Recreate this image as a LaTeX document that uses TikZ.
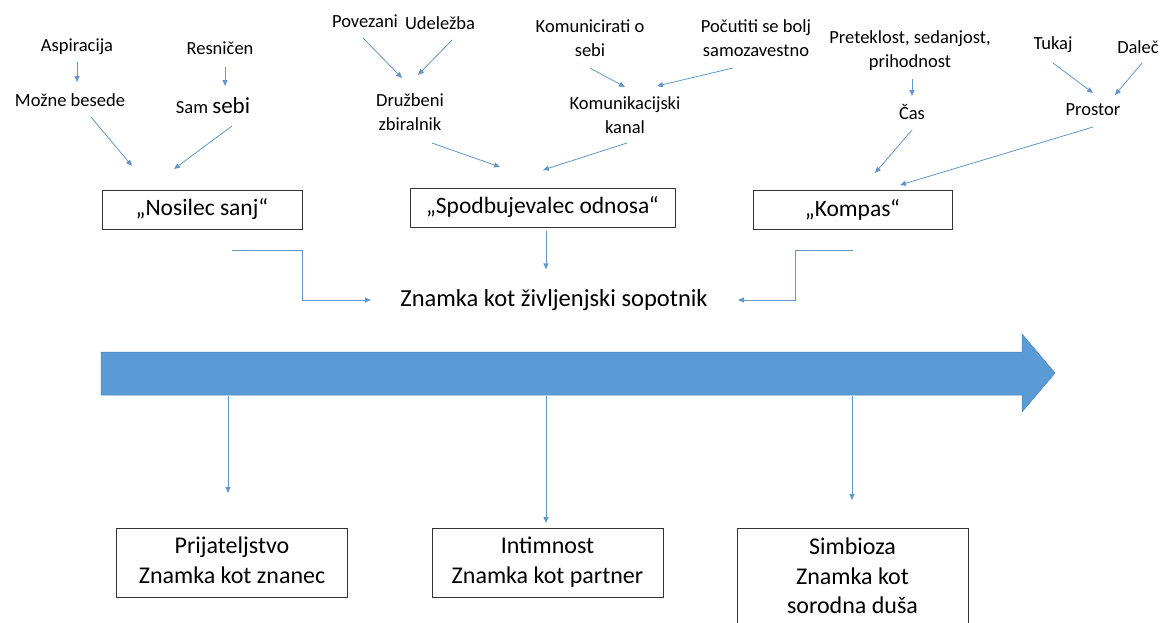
\documentclass[tikz,border=0pt]{standalone}
\usepackage{fontspec}
\setmainfont{Carlito}
\usetikzlibrary{arrows.meta}
\definecolor{ablue}{HTML}{5B9BD5}
\definecolor{lblue}{HTML}{6396C8}
\definecolor{bblue}{HTML}{4A85BD}
\tikzset{
  lbl/.style={font=\fontsize{18.5}{24}\selectfont, align=center, inner sep=0pt},
  boxtop/.style={draw=black!80, line width=0.8pt, minimum height=39pt, inner sep=0pt, font=\fontsize{23.5}{26}\selectfont},
  boxbot/.style={draw=black!80, line width=0.8pt, inner sep=0pt, minimum width=231pt, font=\fontsize{24}{29.5}\selectfont, align=center},
  conn/.style={draw=lblue, line width=0.8pt, -{Triangle[length=6pt,width=5pt]}},
}
\begin{document}
\begin{tikzpicture}[x=1pt,y=-1pt]
\useasboundingbox (0,0) rectangle (1168,622);
% labels
\node[lbl] (asp) at (77,47) {Aspiracija};
\node[lbl] (moz) at (70,100) {Možne besede};
\node[lbl] (res) at (220,48) {Resničen};
\node[lbl] (sam) at (213,106) {Sam {\fontsize{23}{24}\selectfont sebi}};
\node[lbl] (pov) at (365,21) {Povezani};
\node[lbl] (ude) at (440,23) {Udeležba};
\node[lbl] (dru) at (410,112) {Družbeni\\zbiralnik};
\node[lbl] (kom) at (590,38) {Komunicirati o\\sebi};
\node[lbl] (poc) at (756,38) {Počutiti se bolj\\samozavestno};
\node[lbl] (kk) at (625,115) {Komunikacijski\\kanal};
\node[lbl] (pre) at (910,51) {Preteklost, sedanjost,\\prihodnost};
\node[lbl] (cas) at (912,112) {Čas};
\node[lbl] (tuk) at (1053,45) {Tukaj};
\node[lbl] (dal) at (1138,47) {Daleč};
\node[lbl] (pro) at (1093,110) {Prostor};
% top boxes
\node[boxtop, minimum width=200pt] (nos) at (202,209.5) {„Nosilec sanj“};
\node[boxtop, minimum width=265pt] (spo) at (542.5,207.5) {„Spodbujevalec odnosa“};
\node[boxtop, minimum width=199pt] (kmp) at (852.5,209.5) {„Kompas“};
% central
\node[font=\fontsize{24.5}{26}\selectfont, inner sep=0pt] (cen) at (554,300) {Znamka kot življenjski sopotnik};
% big arrow
\fill[ablue, draw=bblue, line width=0.5pt] (101,352) -- (1022,352) -- (1022,334) -- (1055,373) -- (1022,412) -- (1022,395) -- (101,395) -- cycle;
\coordinate (arrL) at (228,396);
\coordinate (arrM) at (546,396);
\coordinate (arrR) at (852,396);
% bottom boxes
\node[boxbot, minimum height=69pt] (b1) at (232,562.5) {Prijateljstvo\strut\\Znamka kot znanec\strut};
\node[boxbot, minimum height=69pt] (b2) at (547.5,562.5) {Intimnost\strut\\Znamka kot partner\strut};
\node[boxbot, minimum height=100pt, anchor=north] (b3) at (852.5,528) {Simbioza\strut\\Znamka kot\strut\\sorodna duša\strut};
% arrow end coordinates
\coordinate (e1) at (77,62); \coordinate (f1) at (77,82);
\coordinate (e2) at (225,67); \coordinate (f2) at (225,86);
\coordinate (e3) at (91,117); \coordinate (f3) at (132,166);
\coordinate (e4) at (232,126); \coordinate (f4) at (174,169);
\coordinate (e5) at (363,38); \coordinate (f5) at (402,78);
\coordinate (e6) at (452,40); \coordinate (f6) at (418,75);
\coordinate (e7) at (590,68); \coordinate (f7) at (625,87);
\coordinate (e8) at (733,68); \coordinate (f8) at (657,86);
\coordinate (e9) at (432,143); \coordinate (f9) at (500,167);
\coordinate (e10) at (627,143); \coordinate (f10) at (543,170);
\coordinate (e11) at (912,79); \coordinate (f11) at (912,96);
\coordinate (e12) at (912,130); \coordinate (f12) at (875,173);
\coordinate (e13) at (1053,63); \coordinate (f13) at (1093,93);
\coordinate (e14) at (1142,63); \coordinate (f14) at (1115,95);
\coordinate (e15) at (1093,127); \coordinate (f15) at (900,185);
\draw[conn] (e1) -- (f1);
\draw[conn] (e2) -- (f2);
\draw[conn] (e3) -- (f3);
\draw[conn] (e4) -- (f4);
\draw[conn] (e5) -- (f5);
\draw[conn] (e6) -- (f6);
\draw[conn] (e7) -- (f7);
\draw[conn] (e8) -- (f8);
\draw[conn] (e9) -- (f9);
\draw[conn] (e10) -- (f10);
\draw[conn] (e11) -- (f11);
\draw[conn] (e12) -- (f12);
\draw[conn] (e13) -- (f13);
\draw[conn] (e14) -- (f14);
\draw[conn] (e15) -- (f15);
% elbows and middle
\coordinate (lA) at (232,250); \coordinate (lB) at (371,300);
\draw[conn] (lA) -- (302,250) -- (302,300) -- (lB);
\coordinate (rA) at (853,250); \coordinate (rB) at (738,300);
\draw[conn] (rA) -- (795,250) -- (795,300) -- (rB);
\draw[conn] (spo.south) ++(3.5,4) coordinate (mA) -- ++(0,38);
% down arrows
\draw[conn] (arrL) -- (228,493);
\draw[conn] (arrM) -- (546,523);
\draw[conn] (arrR) -- (852,500);
\end{tikzpicture}
\end{document}
